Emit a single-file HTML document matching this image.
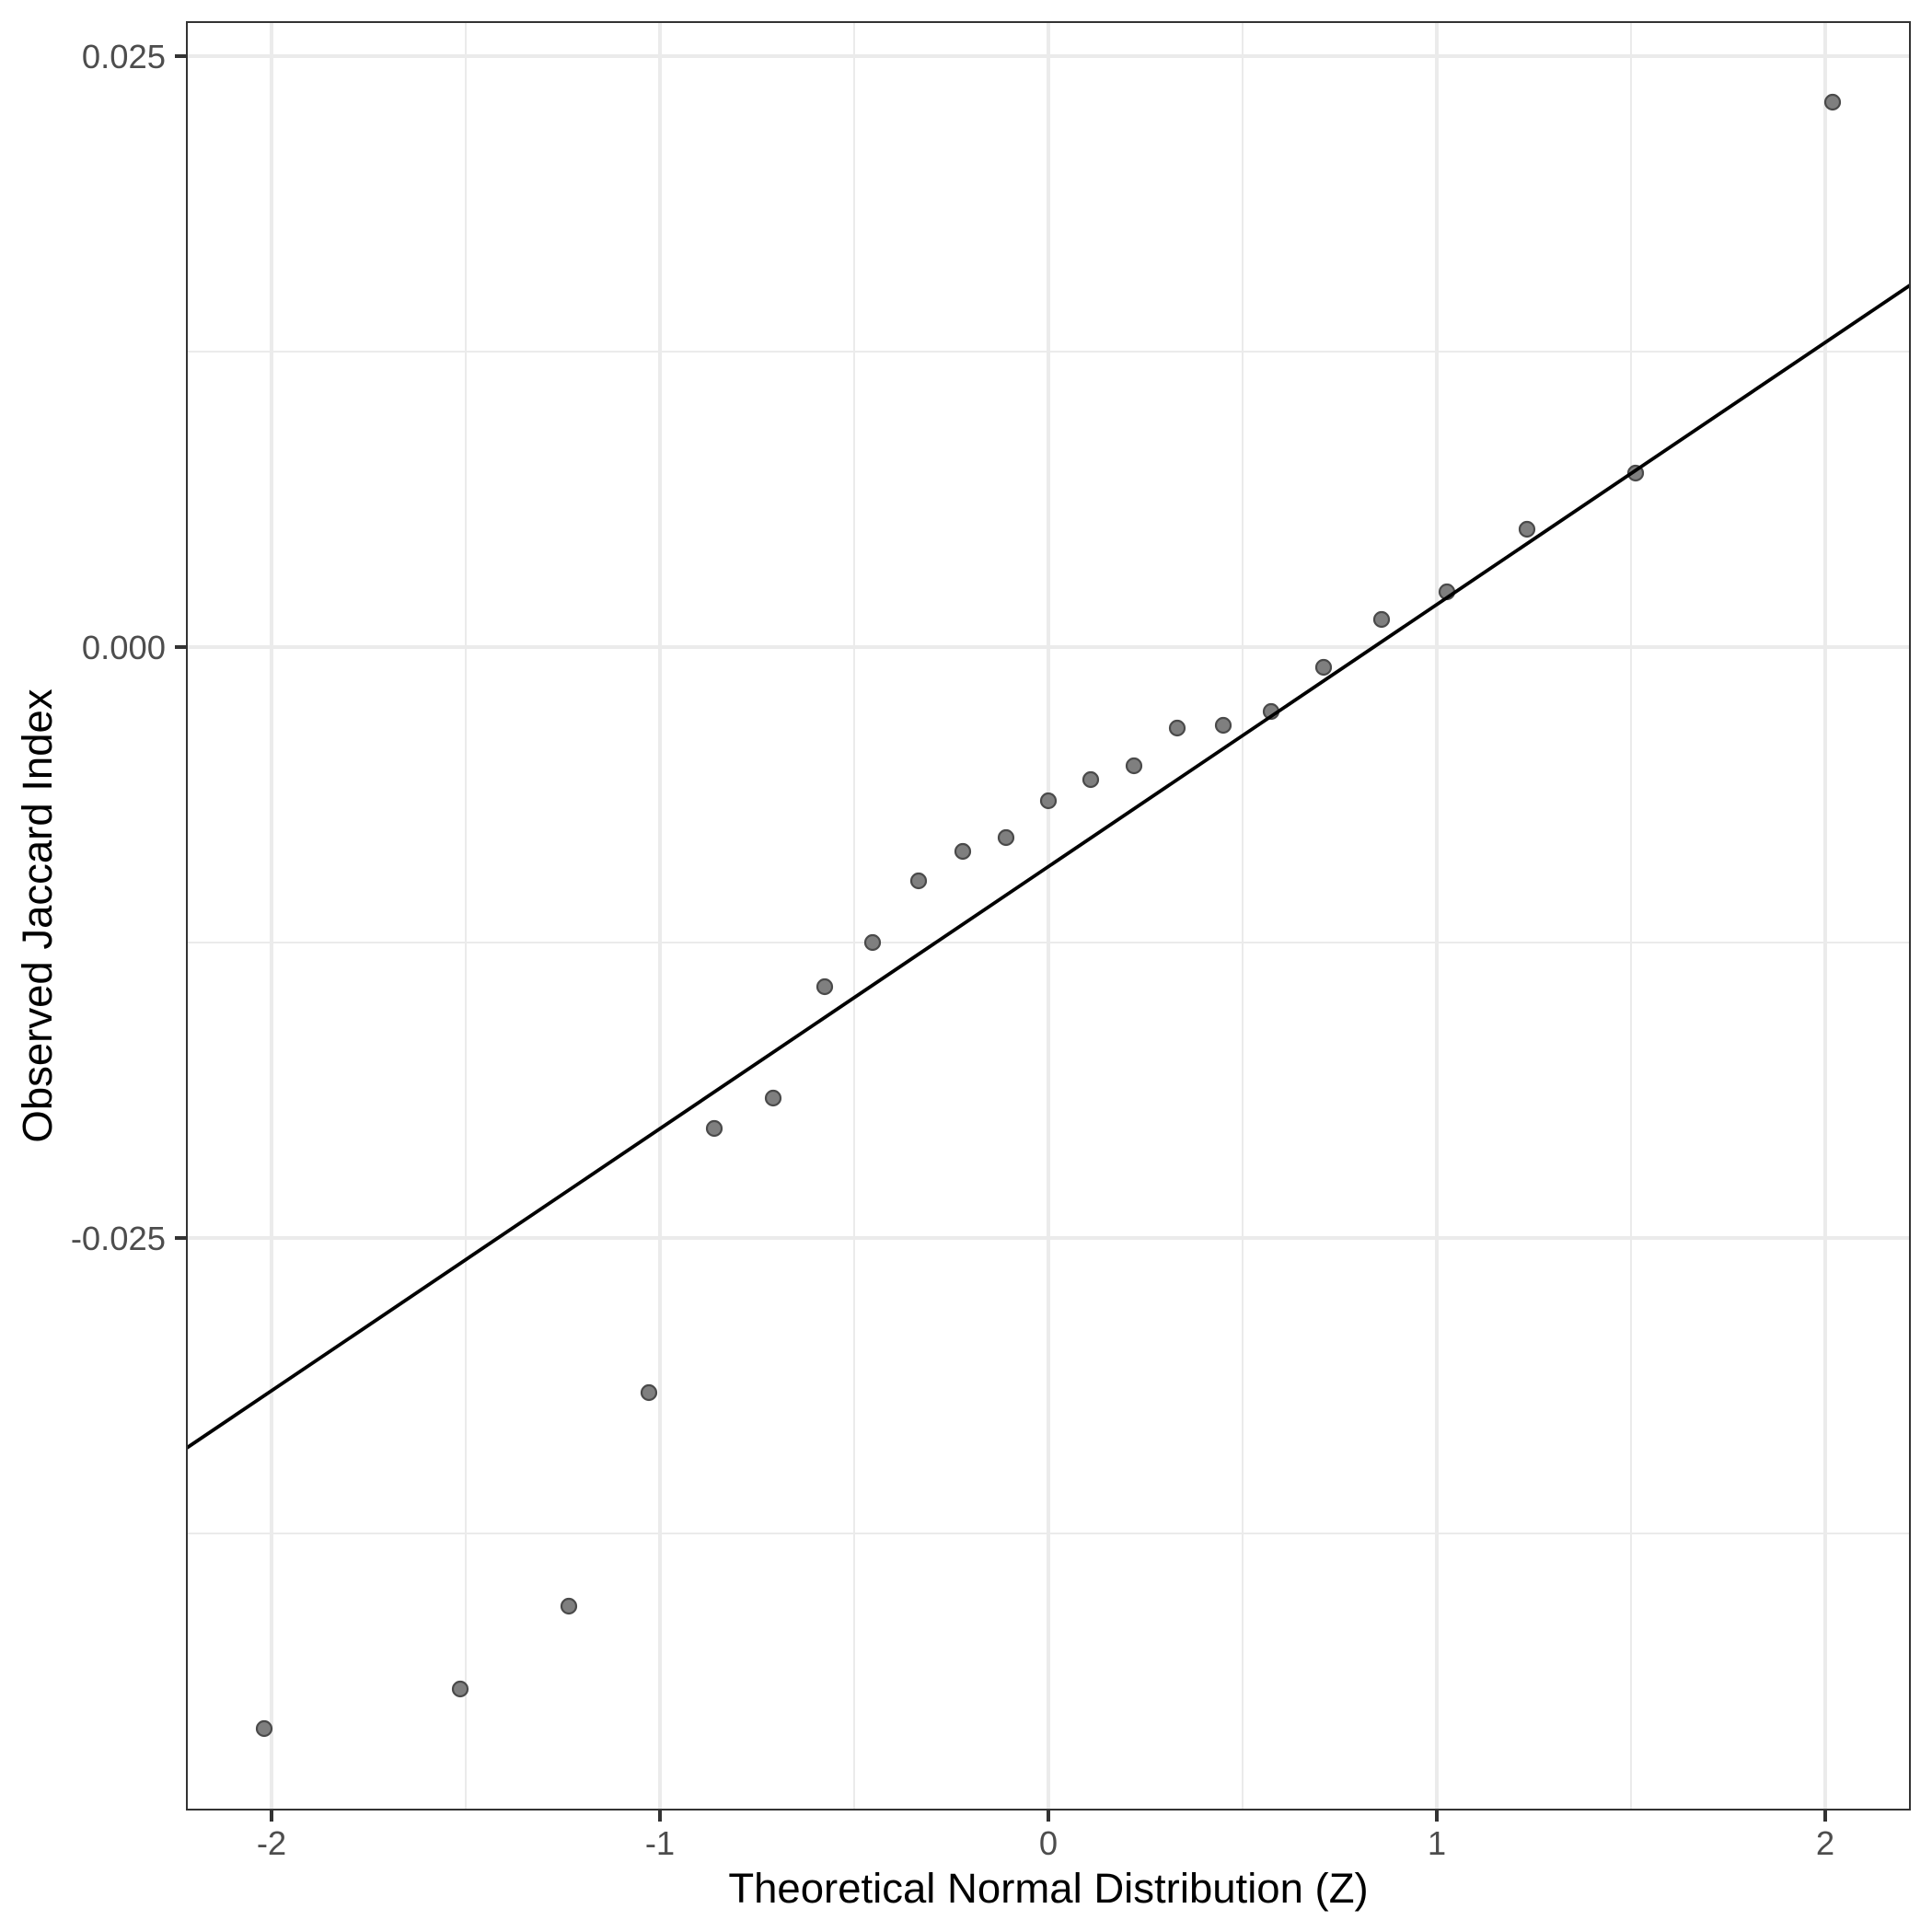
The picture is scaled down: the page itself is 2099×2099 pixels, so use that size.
<!DOCTYPE html>
<html><head><meta charset="utf-8"><style>
html,body{margin:0;padding:0;background:#fff;}
svg{display:block;}
text{font-family:"Liberation Sans",Arial,sans-serif;}
</style></head><body>
<svg width="2099" height="2099" viewBox="0 0 2099 2099" xmlns="http://www.w3.org/2000/svg">
<rect x="0" y="0" width="2099" height="2099" fill="#fff"/>
<!-- minor grid -->
<g stroke="#EBEBEB" stroke-width="2" fill="none">
<line x1="203" y1="382" x2="2075" y2="382"/>
<line x1="203" y1="1024" x2="2075" y2="1024"/>
<line x1="203" y1="1666" x2="2075" y2="1666"/>
<line x1="506" y1="24" x2="506" y2="1966"/>
<line x1="928" y1="24" x2="928" y2="1966"/>
<line x1="1350" y1="24" x2="1350" y2="1966"/>
<line x1="1772" y1="24" x2="1772" y2="1966"/>
</g>
<!-- major grid -->
<g stroke="#EBEBEB" stroke-width="4" fill="none">
<line x1="203" y1="61" x2="2075" y2="61"/>
<line x1="203" y1="703" x2="2075" y2="703"/>
<line x1="203" y1="1345" x2="2075" y2="1345"/>
<line x1="295" y1="24" x2="295" y2="1966"/>
<line x1="717" y1="24" x2="717" y2="1966"/>
<line x1="1139" y1="24" x2="1139" y2="1966"/>
<line x1="1561" y1="24" x2="1561" y2="1966"/>
<line x1="1983" y1="24" x2="1983" y2="1966"/>
</g>
<!-- points -->
<g fill="#7f7f7f" stroke="#4a4a4a" stroke-width="2.2">
<circle cx="287" cy="1878" r="8"/>
<circle cx="500" cy="1835" r="8"/>
<circle cx="618" cy="1745" r="8"/>
<circle cx="705" cy="1513" r="8"/>
<circle cx="776" cy="1226" r="8"/>
<circle cx="840" cy="1193" r="8"/>
<circle cx="896" cy="1072" r="8"/>
<circle cx="948" cy="1024" r="8"/>
<circle cx="998" cy="957" r="8"/>
<circle cx="1046" cy="925" r="8"/>
<circle cx="1093" cy="910" r="8"/>
<circle cx="1139" cy="870" r="8"/>
<circle cx="1185" cy="847" r="8"/>
<circle cx="1232" cy="832" r="8"/>
<circle cx="1279" cy="791" r="8"/>
<circle cx="1329" cy="788" r="8"/>
<circle cx="1381" cy="773" r="8"/>
<circle cx="1438" cy="725" r="8"/>
<circle cx="1501" cy="673" r="8"/>
<circle cx="1572" cy="643" r="8"/>
<circle cx="1659" cy="575" r="8"/>
<circle cx="1777" cy="514" r="8"/>
<circle cx="1991" cy="111" r="8"/>
</g>
<!-- line -->
<line x1="203" y1="1573" x2="2075" y2="310" stroke="#000" stroke-width="3.8"/>
<!-- panel border -->
<rect x="203" y="24" width="1872" height="1942" fill="none" stroke="#333" stroke-width="2"/>
<!-- ticks -->
<g stroke="#333" stroke-width="4">
<line x1="190" y1="61" x2="203" y2="61"/>
<line x1="190" y1="703" x2="203" y2="703"/>
<line x1="190" y1="1345" x2="203" y2="1345"/>
<line x1="295" y1="1966" x2="295" y2="1979"/>
<line x1="717" y1="1966" x2="717" y2="1979"/>
<line x1="1139" y1="1966" x2="1139" y2="1979"/>
<line x1="1561" y1="1966" x2="1561" y2="1979"/>
<line x1="1983" y1="1966" x2="1983" y2="1979"/>
</g>
<g fill="#4D4D4D" font-size="36.4">
<text x="180" y="74" text-anchor="end">0.025</text>
<text x="180" y="716" text-anchor="end">0.000</text>
<text x="180" y="1358" text-anchor="end">-0.025</text>
<text x="295" y="2015" text-anchor="middle">-2</text>
<text x="717" y="2015" text-anchor="middle">-1</text>
<text x="1139" y="2015" text-anchor="middle">0</text>
<text x="1561" y="2015" text-anchor="middle">1</text>
<text x="1983" y="2015" text-anchor="middle">2</text>
</g>
<text x="1139" y="2067" text-anchor="middle" font-size="45.5" fill="#000">Theoretical Normal Distribution (Z)</text>
<text transform="translate(56,995) rotate(-90)" text-anchor="middle" font-size="45.5" fill="#000">Observed Jaccard Index</text>
</svg>
</body></html>
